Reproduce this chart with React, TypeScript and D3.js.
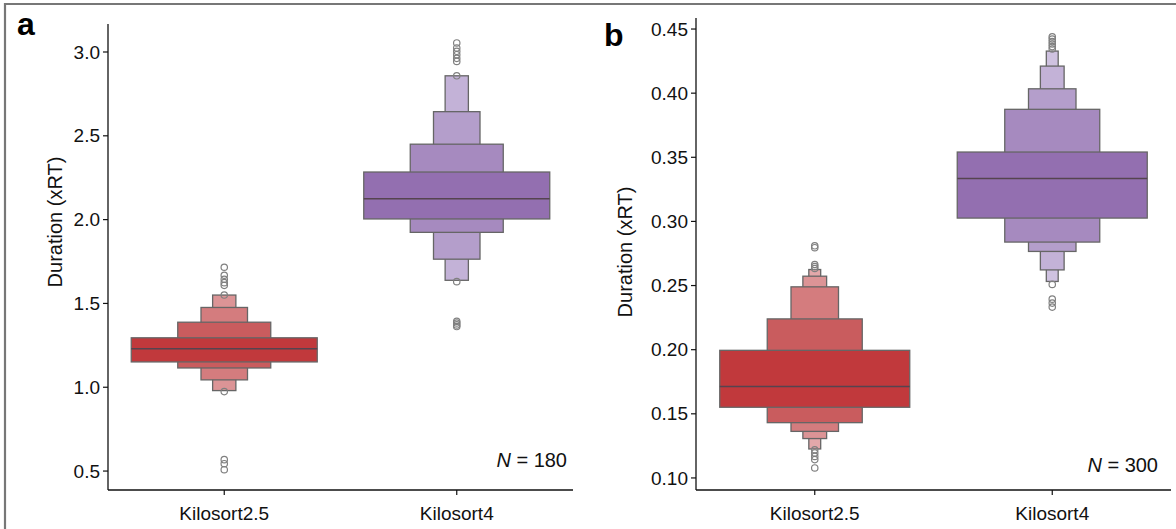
import React from 'react';
import * as d3 from 'd3';

const categories = ['Kilosort2.5', 'Kilosort4'];

// panel a: letter-value boxes, index 0 = central box, then outwards
const ticksA = [0.5, 1.0, 1.5, 2.0, 2.5, 3.0];
const ks25A_lower = [1.151, 1.115, 1.044, 0.98];
const ks25A_upper = [1.295, 1.388, 1.476, 1.55];
const ks25A_median = 1.229;
const ks25A_outliers = [1.716, 1.668, 1.644, 1.624, 1.608, 1.55, 0.974, 0.568, 0.544, 0.508];
const ks4A_lower = [2.004, 1.924, 1.764, 1.638];
const ks4A_upper = [2.284, 2.45, 2.644, 2.858];
const ks4A_median = 2.124;
const ks4A_outliers = [3.054, 3.024, 3.004, 2.984, 2.962, 2.944, 2.858, 1.63, 1.393, 1.383, 1.372, 1.362];

// panel b
const ticksB = [0.1, 0.15, 0.2, 0.25, 0.3, 0.35, 0.4, 0.45];
const ks25B_lower = [0.1551, 0.1431, 0.1363, 0.1307, 0.1226];
const ks25B_upper = [0.1995, 0.224, 0.249, 0.2573, 0.2625];
const ks25B_median = 0.1712;
const ks25B_outliers = [0.281, 0.2795, 0.2664, 0.2648, 0.2633, 0.122, 0.1195, 0.1168, 0.1143, 0.1078];
const ks4B_lower = [0.3026, 0.2839, 0.2766, 0.2622, 0.2532];
const ks4B_upper = [0.3541, 0.3874, 0.4034, 0.4211, 0.4328];
const ks4B_median = 0.3335;
const ks4B_outliers = [0.444, 0.4422, 0.4402, 0.4383, 0.4363, 0.4344, 0.2509, 0.2394, 0.2363, 0.2332];

const redShades = ['#c1393c', '#c95c5e', '#d47c7e', '#dc9496', '#e3a8aa'];
const purpleShades = ['#936fb0', '#a68abf', '#b49ecb', '#c3b2d7', '#cfc2e0'];

const FONT = '"Liberation Sans", Arial, Helvetica, sans-serif';

interface Group {
  name: string;
  lower: number[];
  upper: number[];
  median: number;
  outliers: number[];
  shades: string[];
}

interface PanelProps {
  x0: number;
  x1: number;
  yTop: number;
  yBottom: number;
  domain: [number, number];
  ticks: number[];
  fmt: (v: number) => string;
  groups: Group[];
  nText: string;
  nX: number;
  nY: number;
  letter: string;
  letterX: number;
  letterY: number;
  labelX: number;
  labelY: number;
}

const Panel: React.FC<PanelProps> = (p) => {
  const x = d3.scaleBand<string>().domain(categories).range([p.x0, p.x1]).padding(0);
  const y = d3.scaleLinear().domain(p.domain).range([p.yBottom, p.yTop]);
  const boxW = x.bandwidth() * 0.8;

  return (
    <g>
      <text x={p.letterX} y={p.letterY} fontFamily={FONT} fontWeight="bold" fontSize={32}>{p.letter}</text>
      {p.groups.map((g) => {
        const cx = (x(g.name) as number) + x.bandwidth() / 2;
        const levels = d3.range(g.lower.length).reverse();
        return (
          <g key={g.name}>
            {levels.map((k) => {
              const w = boxW / Math.pow(2, k);
              return (
                <rect key={k} x={cx - w / 2} y={y(g.upper[k])} width={w}
                  height={y(g.lower[k]) - y(g.upper[k])}
                  fill={g.shades[k]} stroke="#666" strokeWidth={1.3} />
              );
            })}
            <line x1={cx - boxW / 2} x2={cx + boxW / 2} y1={y(g.median)} y2={y(g.median)}
              stroke="#55444f" strokeWidth={1.5} />
            {g.outliers.map((v, i) => (
              <circle key={i} cx={cx} cy={y(v)} r={3.2} fill="none" stroke="#808080" strokeWidth={1.2} />
            ))}
          </g>
        );
      })}
      {/* y axis */}
      <line x1={p.x0} x2={p.x0} y1={p.yTop} y2={p.yBottom} stroke="#111" strokeWidth={1.3} />
      {p.ticks.map((t) => (
        <g key={t} transform={`translate(${p.x0},${y(t)})`}>
          <line x1={-5} x2={0} stroke="#111" strokeWidth={1.2} />
          <text x={-8} dy="0.35em" textAnchor="end" fontFamily={FONT} fontSize={19} fill="#111">{p.fmt(t)}</text>
        </g>
      ))}
      {/* x axis */}
      <line x1={p.x0} x2={p.x1} y1={p.yBottom} y2={p.yBottom} stroke="#111" strokeWidth={1.3} />
      {categories.map((c) => {
        const cx = (x(c) as number) + x.bandwidth() / 2;
        return (
          <g key={c} transform={`translate(${cx},${p.yBottom})`}>
            <line y1={0} y2={5} stroke="#111" strokeWidth={1.2} />
            <text y={30} textAnchor="middle" fontFamily={FONT} fontSize={19} fill="#111">{c}</text>
          </g>
        );
      })}
      <text transform={`translate(${p.labelX},${p.labelY}) rotate(-90)`} textAnchor="middle"
        fontFamily={FONT} fontSize={20} fill="#111">Duration (xRT)</text>
      <text x={p.nX} y={p.nY} textAnchor="end" fontFamily={FONT} fontSize={20} fill="#111">
        <tspan fontStyle="italic">N</tspan> = {p.nText}
      </text>
    </g>
  );
};

export default function App() {
  const groupsA: Group[] = [
    { name: categories[0], lower: ks25A_lower, upper: ks25A_upper, median: ks25A_median, outliers: ks25A_outliers, shades: redShades },
    { name: categories[1], lower: ks4A_lower, upper: ks4A_upper, median: ks4A_median, outliers: ks4A_outliers, shades: purpleShades },
  ];
  const groupsB: Group[] = [
    { name: categories[0], lower: ks25B_lower, upper: ks25B_upper, median: ks25B_median, outliers: ks25B_outliers, shades: redShades },
    { name: categories[1], lower: ks4B_lower, upper: ks4B_upper, median: ks4B_median, outliers: ks4B_outliers, shades: purpleShades },
  ];
  return (
    <svg width={1176} height={529} style={{ position: 'fixed', left: 0, top: 0, background: '#fff' }}>
      <rect x={0} y={0} width={1176} height={529} fill="#fff" />
      <line x1={5} x2={1176} y1={4} y2={4} stroke="#777" strokeWidth={2.2} />
      <line x1={5} x2={5} y1={3} y2={529} stroke="#777" strokeWidth={2.2} />
      <Panel x0={108} x1={573} yTop={24} yBottom={490} domain={[0.387, 3.167]} ticks={ticksA}
        fmt={d3.format('.1f')} groups={groupsA} nText="180" nX={567} nY={467}
        letter="a" letterX={17} letterY={35} labelX={62} labelY={222} />
      <Panel x0={696} x1={1171} yTop={18} yBottom={490} domain={[0.0906, 0.4586]} ticks={ticksB}
        fmt={d3.format('.2f')} groups={groupsB} nText="300" nX={1158} nY={472}
        letter="b" letterX={604} letterY={46} labelX={632} labelY={252} />
    </svg>
  );
}
